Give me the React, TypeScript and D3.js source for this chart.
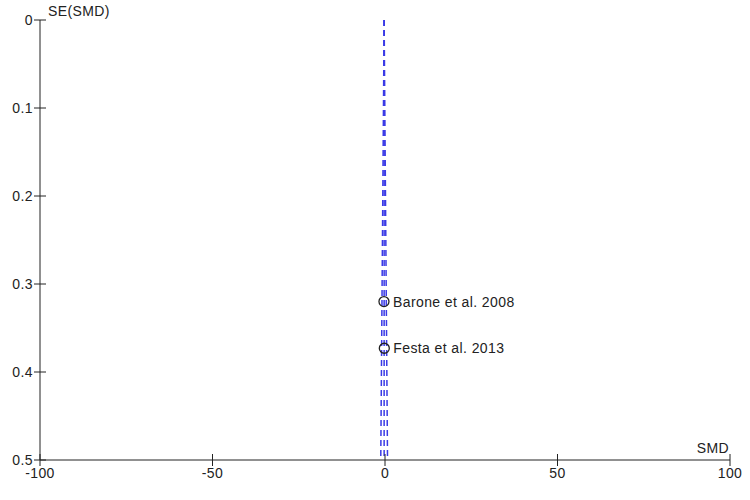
import * as d3 from 'd3';
import React, { useEffect, useRef } from 'react';

// studies
const studies = ['Barone et al. 2008', 'Festa et al. 2013'];
const smd = [-0.3, -0.2];
const se = [0.32, 0.373];
const pooled = -0.25;

const xTicks = [-100, -50, 0, 50, 100];
const yTicks = [0, 0.1, 0.2, 0.3, 0.4, 0.5];

const FunnelPlot: React.FC = () => {
  const svgRef = useRef(null);

  useEffect(() => {
    const width = 750;
    const height = 500;
    const margin = { top: 20, right: 20, bottom: 40, left: 40 };

    const svg = d3.select(svgRef.current);
    svg.selectAll('*').remove();
    svg.attr('width', width).attr('height', height);

    svg.append('rect').attr('width', width).attr('height', height).attr('fill', '#fff');

    const x = d3.scaleLinear().domain([-100, 100]).range([margin.left, width - margin.right]);
    const y = d3.scaleLinear().domain([0, 0.5]).range([margin.top, height - margin.bottom]);

    const font = 'Liberation Sans, Arial, sans-serif';
    const ink = '#222';

    // funnel: pooled line and 95% limits
    const seMax = 0.5;
    const funnel: [number, number][][] = [
      [[pooled, 0], [pooled, seMax]],
      [[pooled, 0], [pooled - 1.96 * seMax, seMax]],
      [[pooled, 0], [pooled + 1.96 * seMax, seMax]],
    ];
    const line = d3
      .line<[number, number]>()
      .x((d) => x(d[0]))
      .y((d) => y(d[1]));

    svg
      .selectAll('.funnel')
      .data(funnel)
      .enter()
      .append('path')
      .attr('d', line)
      .attr('fill', 'none')
      .attr('stroke', '#3a3ae6')
      .attr('stroke-width', 1.5)
      .attr('stroke-dasharray', '6,4');

    // axes
    const axes = svg.append('g').attr('stroke', ink).attr('stroke-width', 1);
    axes.append('line').attr('x1', x(-100)).attr('x2', x(-100)).attr('y1', y(0)).attr('y2', y(0.5));
    axes.append('line').attr('x1', x(-100)).attr('x2', x(100)).attr('y1', y(0.5)).attr('y2', y(0.5));

    axes
      .selectAll('.yt')
      .data(yTicks)
      .enter()
      .append('line')
      .attr('x1', x(-100) - 6)
      .attr('x2', x(-100) + 6)
      .attr('y1', (d) => y(d))
      .attr('y2', (d) => y(d));

    axes
      .selectAll('.xt')
      .data(xTicks)
      .enter()
      .append('line')
      .attr('x1', (d) => x(d))
      .attr('x2', (d) => x(d))
      .attr('y1', y(0.5) - 6)
      .attr('y2', y(0.5) + 6);

    const txt = (sel: any) =>
      sel
        .attr('font-family', font)
        .attr('font-size', 14)
        .attr('letter-spacing', 0.4)
        .attr('fill', ink);

    svg
      .selectAll('.yl')
      .data(yTicks)
      .enter()
      .append('text')
      .attr('x', x(-100) - 7)
      .attr('y', (d) => y(d) + 5)
      .attr('text-anchor', 'end')
      .call(txt)
      .text((d) => String(d));

    svg
      .selectAll('.xl')
      .data(xTicks)
      .enter()
      .append('text')
      .attr('x', (d) => x(d))
      .attr('y', y(0.5) + 18)
      .attr('text-anchor', 'middle')
      .call(txt)
      .text((d) => String(d));

    svg
      .append('text')
      .attr('x', x(-100) + 8)
      .attr('y', 16)
      .call(txt)
      .text('SE(SMD)');

    svg
      .append('text')
      .attr('x', x(100) - 1)
      .attr('y', y(0.5) - 7)
      .attr('text-anchor', 'end')
      .call(txt)
      .text('SMD');

    // studies
    const pts = studies.map((name, i) => ({ name, smd: smd[i], se: se[i] }));
    svg
      .selectAll('.pt')
      .data(pts)
      .enter()
      .append('circle')
      .attr('cx', (d) => x(d.smd))
      .attr('cy', (d) => y(d.se))
      .attr('r', 5)
      .attr('fill', 'none')
      .attr('stroke', ink)
      .attr('stroke-width', 1.3);

    svg
      .selectAll('.lbl')
      .data(pts)
      .enter()
      .append('text')
      .attr('x', (d) => x(d.smd) + 9)
      .attr('y', (d) => y(d.se) + 5)
      .call(txt)
      .text((d) => d.name);
  }, []);

  return <svg ref={svgRef} style={{ position: 'absolute', left: 0, top: 0 }} />;
};

export default function App() {
  return <FunnelPlot />;
}
